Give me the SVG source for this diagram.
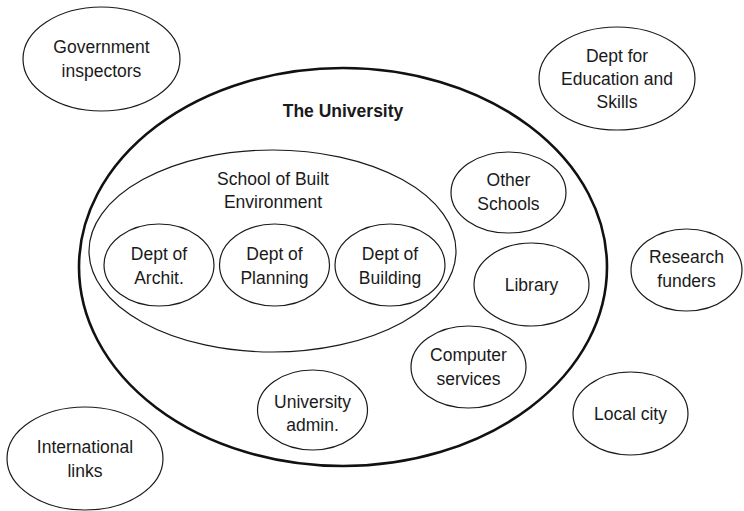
<svg xmlns="http://www.w3.org/2000/svg" width="744" height="511" viewBox="0 0 744 511">
<style>
  .n { fill: #ffffff; stroke: #1a1a1a; stroke-width: 1.2; }
  .big { fill: #ffffff; stroke: #111111; stroke-width: 2.6; }
  text { font-family: "Liberation Sans", Arial, Helvetica, sans-serif; font-size: 17.5px; fill: #1a1a1a; text-anchor: middle; }
  .b { font-weight: bold; }
</style>
<rect width="744" height="511" fill="#ffffff"/>
<g id="connectors"></g>
<g id="university">
  <ellipse class="big" cx="343" cy="267" rx="264" ry="199"/>
  <text class="b" x="343" y="117">The University</text>
</g>
<g id="school">
  <ellipse class="n" cx="272.5" cy="251" rx="183.5" ry="101"/>
  <text x="273" y="185">School of Built</text>
  <text x="273" y="208">Environment</text>
</g>
<g id="dept-archit">
  <ellipse class="n" cx="159" cy="265" rx="55" ry="41"/>
  <text x="159" y="260">Dept of</text>
  <text x="159" y="284">Archit.</text>
</g>
<g id="dept-planning">
  <ellipse class="n" cx="274.5" cy="265" rx="55" ry="41"/>
  <text x="274.5" y="260">Dept of</text>
  <text x="274.5" y="284">Planning</text>
</g>
<g id="dept-building">
  <ellipse class="n" cx="390" cy="265" rx="55" ry="41"/>
  <text x="390" y="260">Dept of</text>
  <text x="390" y="284">Building</text>
</g>
<g id="other-schools">
  <ellipse class="n" cx="508.5" cy="192.5" rx="57.5" ry="40.5"/>
  <text x="508.5" y="186">Other</text>
  <text x="508.5" y="210">Schools</text>
</g>
<g id="library">
  <ellipse class="n" cx="531.5" cy="284.5" rx="57.5" ry="41.5"/>
  <text x="531.5" y="291">Library</text>
</g>
<g id="computer-services">
  <ellipse class="n" cx="468.5" cy="367" rx="57.5" ry="41"/>
  <text x="468.5" y="361">Computer</text>
  <text x="468.5" y="385">services</text>
</g>
<g id="university-admin">
  <ellipse class="n" cx="312.5" cy="410" rx="55" ry="40"/>
  <text x="312.5" y="408">University</text>
  <text x="312.5" y="431">admin.</text>
</g>
<g id="government-inspectors">
  <ellipse class="n" cx="101.5" cy="59" rx="78.5" ry="52"/>
  <text x="101.5" y="53">Government</text>
  <text x="101.5" y="77">inspectors</text>
</g>
<g id="dfes">
  <ellipse class="n" cx="617" cy="78.5" rx="78" ry="51.5"/>
  <text x="617" y="62">Dept for</text>
  <text x="617" y="85">Education and</text>
  <text x="617" y="108">Skills</text>
</g>
<g id="research-funders">
  <ellipse class="n" cx="686.5" cy="270" rx="55.5" ry="41"/>
  <text x="686.5" y="263">Research</text>
  <text x="686.5" y="287">funders</text>
</g>
<g id="local-city">
  <ellipse class="n" cx="630.5" cy="413.5" rx="57.5" ry="41.5"/>
  <text x="630.5" y="420">Local city</text>
</g>
<g id="international-links">
  <ellipse class="n" cx="85" cy="458.5" rx="78" ry="51.5"/>
  <text x="85" y="453">International</text>
  <text x="85" y="477">links</text>
</g>
</svg>
